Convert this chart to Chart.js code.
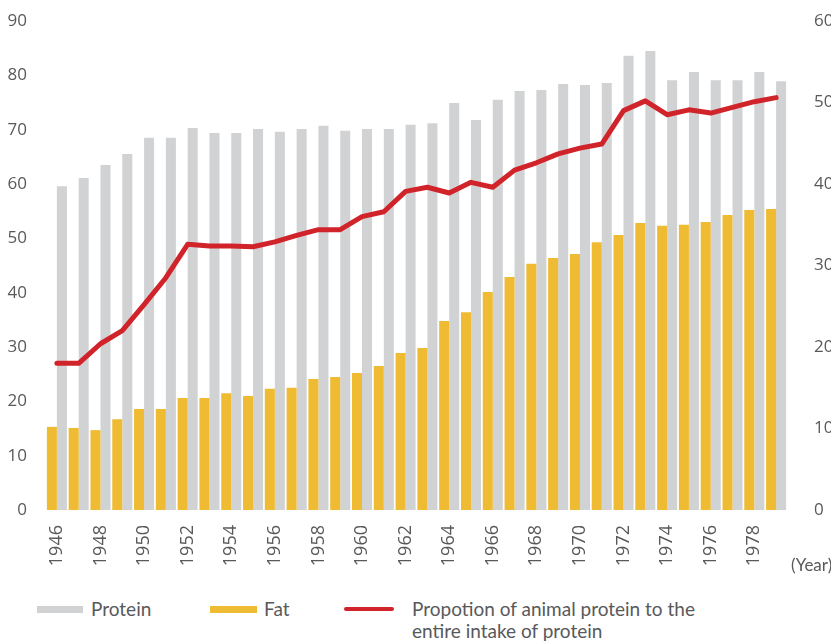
<!DOCTYPE html>
<html>
<head>
<meta charset="utf-8">
<script src="https://cdn.jsdelivr.net/npm/chart.js@4.4.1/dist/chart.umd.min.js"></script>
<style>
  html, body { margin: 0; padding: 0; background: #fff; overflow: hidden; }
  #wrap { position: absolute; left: 0; top: 0; width: 850px; height: 580px; }
  .lg { position: absolute; font-family: Lato, "Open Sans", sans-serif; font-size: 19px; line-height: 22px; color: #58595b; white-space: nowrap; }
  .sw { position: absolute; height: 7px; }
</style>
</head>
<body>
<div id="wrap"><canvas id="graph"></canvas></div>

<div class="sw" style="left:37px; top:606px; width:46px; background:#d1d2d4;"></div>
<div class="lg" style="left:91px; top:598px;">Protein</div>
<div class="sw" style="left:210px; top:606px; width:47px; background:#eebb33;"></div>
<div class="lg" style="left:264px; top:598px;">Fat</div>
<div class="sw" style="left:344px; top:607px; width:50px; height:4px; border-radius:2px; background:#d1232a;"></div>
<div class="lg" style="left:412px; top:598px;">Propotion of animal protein to the<br>entire intake of protein</div>
<div class="lg" style="left:791px; top:555px; font-size:17px; line-height:20px;">(Year)</div>

<script>
const YEARS = ["1946", "1947", "1948", "1949", "1950", "1951", "1952", "1953", "1954", "1955", "1956", "1957",
  "1958", "1959", "1960", "1961", "1962", "1963", "1964", "1965", "1966", "1967", "1968", "1969", "1970",
  "1971", "1972", "1973", "1974", "1975", "1976", "1977", "1978", "1979"];

const PROTEIN = [59.6, 61.1, 63.5, 65.5, 68.5, 68.5, 70.3, 69.4, 69.4, 70.1, 69.6, 70.1,
  70.7, 69.8, 70.1, 70.1, 70.9, 71.2, 74.9, 71.8, 75.5, 77.1, 77.3, 78.4, 78.2,
  78.6, 83.6, 84.5, 79.1, 80.6, 79.1, 79.1, 80.6, 78.9];

const FAT = [15.3, 15.1, 14.7, 16.7, 18.6, 18.6, 20.6, 20.6, 21.5, 21.0, 22.3, 22.5,
  24.1, 24.5, 25.2, 26.5, 28.9, 29.8, 34.8, 36.4, 40.1, 42.9, 45.3, 46.4, 47.1,
  49.3, 50.6, 52.8, 52.3, 52.5, 53.0, 54.3, 55.2, 55.4];

// proportion of animal protein (right axis)
const ANIMAL_RATIO = [18.0, 18.0, 20.4, 22.0, 25.2, 28.5, 32.6, 32.4, 32.4, 32.3, 32.9, 33.7,
  34.4, 34.4, 36.0, 36.6, 39.1, 39.6, 38.9, 40.2, 39.6, 41.7, 42.6, 43.7, 44.4,
  44.9, 49.0, 50.2, 48.5, 49.1, 48.7, 49.4, 50.1, 50.6];

const TICK_COLOR = '#58595b';

const ctx = document.getElementById('graph').getContext('2d');

// fixed axis widths, and no extra top padding from the tick padding
function fixY(width) {
  return (scale) => {
    scale.width = width;
    scale.paddingTop = 0;
    scale.paddingBottom = 0;
  };
}

const myChart = new Chart(ctx, {
  type: 'bar',
  data: {
    labels: YEARS,
    datasets: [{
      label: 'Fat',
      data: FAT,
      backgroundColor: '#eebb33',
      yAxisID: 'y',
      order: 1
    }, {
      label: 'Protein',
      data: PROTEIN,
      backgroundColor: '#d1d2d4',
      yAxisID: 'y',
      order: 1
    }, {
      type: 'line',
      label: 'Propotion of animal protein to the entire intake of protein',
      data: ANIMAL_RATIO,
      borderColor: '#d1232a',
      borderWidth: 5,
      borderCapStyle: 'round',
      borderJoinStyle: 'round',
      pointRadius: 0,
      tension: 0,
      yAxisID: 'y1',
      order: 0
    }]
  },
  options: {
    responsive: true,
    maintainAspectRatio: false,
    animation: false,
    layout: { padding: { top: 21, left: 0, right: 0, bottom: 0 } },
    datasets: {
      bar: { categoryPercentage: 0.92, barPercentage: 1 }
    },
    plugins: {
      legend: { display: false },
      tooltip: { enabled: false }
    },
    scales: {
      x: {
        grid: { display: false, drawTicks: false },
        border: { display: false },
        ticks: {
          autoSkip: false,
          minRotation: 90,
          maxRotation: 90,
          padding: 15,
          color: TICK_COLOR,
          font: { family: 'Open Sans', size: 18 },
          callback: function (val, i) {
            return i % 2 === 0 ? this.getLabelForValue(val) : '';
          }
        },
        afterFit: (scale) => { scale.height = 70; }
      },
      y: {
        position: 'left',
        min: 0,
        max: 90,
        grid: { display: false, drawTicks: false },
        border: { display: false },
        ticks: {
          stepSize: 10,
          padding: 19,
          color: TICK_COLOR,
          font: { family: 'Open Sans', size: 17 }
        },
        afterFit: fixY(46)
      },
      y1: {
        position: 'right',
        min: 0,
        max: 60,
        grid: { display: false, drawTicks: false },
        border: { display: false },
        ticks: {
          stepSize: 10,
          padding: 27,
          color: TICK_COLOR,
          font: { family: 'Open Sans', size: 17 }
        },
        afterFit: fixY(63)
      }
    }
  }
});
</script>
</body>
</html>
